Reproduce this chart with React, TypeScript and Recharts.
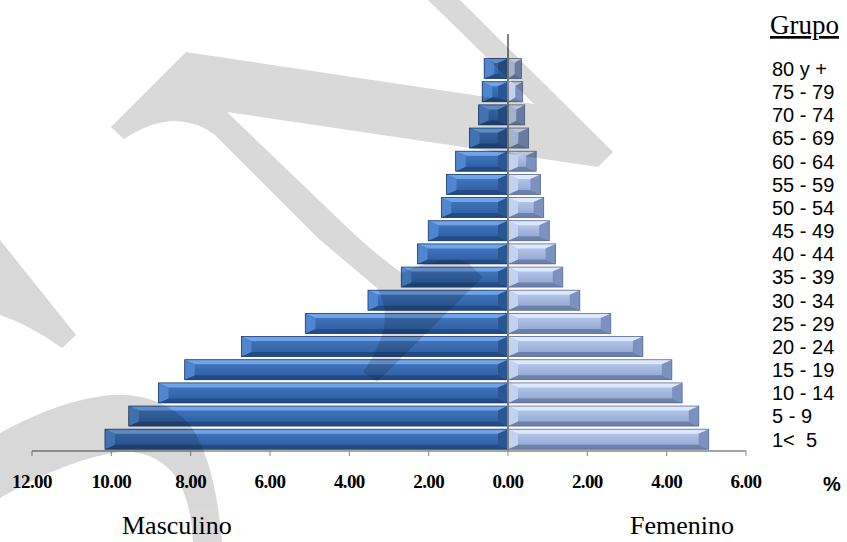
import { BarChart, Bar, XAxis, YAxis, ReferenceLine } from "recharts";

// Grupos de edad, de arriba hacia abajo
const grupos = [
  "80 y +",
  "75 - 79",
  "70 - 74",
  "65 - 69",
  "60 - 64",
  "55 - 59",
  "50 - 54",
  "45 - 49",
  "40 - 44",
  "35 - 39",
  "30 - 34",
  "25 - 29",
  "20 - 24",
  "15 - 19",
  "10 - 14",
  "5 - 9",
  "1< \u00a05",
];

// porcentajes
const masculino = [0.6, 0.65, 0.74, 0.97, 1.32, 1.55, 1.68, 2.01, 2.28, 2.69, 3.53, 5.11, 6.72, 8.15, 8.81, 9.56, 10.16];
const femenino = [0.34, 0.37, 0.42, 0.52, 0.71, 0.82, 0.9, 1.04, 1.2, 1.38, 1.81, 2.59, 3.4, 4.13, 4.39, 4.81, 5.06];

const xTicks = [-12, -10, -8, -6, -4, -2, 0, 2, 4, 6];

// fila vacia arriba, como en el original
const data = [
  { grupo: "", m: null, f: null },
  ...grupos.map((g, i) => ({ grupo: g, m: -masculino[i], f: femenino[i] })),
];

type BevelColors = {
  face: string;
  top: string;
  bottom: string;
  left: string;
  right: string;
  stroke: string;
};

const MALE: BevelColors = {
  face: "url(#mFace)",
  top: "#6FA4E8",
  bottom: "#234C86",
  left: "#4F86CF",
  right: "#2A5693",
  stroke: "#1D3E6E",
};

const FEMALE: BevelColors = {
  face: "url(#fFace)",
  top: "#DCE8FC",
  bottom: "#6D80AC",
  left: "#C2D2F0",
  right: "#7D91BE",
  stroke: "#5B6B92",
};

function BevelBar(props: any) {
  const { x, y, width, height, c } = props;
  if (!width || !height) return null;
  const x0 = width < 0 ? x + width : x;
  const y0 = height < 0 ? y + height : y;
  const w = Math.abs(width);
  const h = Math.abs(height);
  const bv = Math.min(4.5, h / 2);
  const be = Math.min(10, w / 2, h / 2);
  const x1 = x0 + w;
  const y1 = y0 + h;
  const pts = (a: number[][]) => a.map((p) => p.join(",")).join(" ");
  return (
    <g>
      <rect x={x0} y={y0} width={w} height={h} fill={c.face} />
      <polygon points={pts([[x0, y0], [x1, y0], [x1 - be, y0 + bv], [x0 + be, y0 + bv]])} fill={c.top} />
      <polygon points={pts([[x0, y1], [x1, y1], [x1 - be, y1 - bv], [x0 + be, y1 - bv]])} fill={c.bottom} />
      <polygon points={pts([[x0, y0], [x0 + be, y0 + bv], [x0 + be, y1 - bv], [x0, y1]])} fill={c.left} />
      <polygon points={pts([[x1, y0], [x1 - be, y0 + bv], [x1 - be, y1 - bv], [x1, y1]])} fill={c.right} />
      <rect x={x0} y={y0} width={w} height={h} fill="none" stroke={c.stroke} strokeWidth={0.8} />
    </g>
  );
}

export default function App() {
  return (
    <div style={{ position: "absolute", left: 0, top: 0, width: 847, height: 542, background: "#fff" }}>
      <BarChart
        width={847}
        height={542}
        data={data}
        layout="vertical"
        stackOffset="sign"
        barCategoryGap="6%"
        margin={{ top: 34, right: 0, bottom: 0, left: 32 }}
      >
        <defs>
          <linearGradient id="mFace" x1="0" y1="0" x2="0" y2="1">
            <stop offset="0%" stopColor="#4479C2" />
            <stop offset="100%" stopColor="#2D5C9F" />
          </linearGradient>
          <linearGradient id="fFace" x1="0" y1="0" x2="0" y2="1">
            <stop offset="0%" stopColor="#BCCDF0" />
            <stop offset="100%" stopColor="#8DA1CC" />
          </linearGradient>
        </defs>
        <XAxis
          type="number"
          domain={[-12, 6]}
          ticks={xTicks}
          allowDataOverflow
          height={91}
          tickSize={5}
          tickMargin={19}
          axisLine={{ stroke: "#868686", strokeWidth: 1.5 }}
          tickLine={{ stroke: "#868686" }}
          tickFormatter={(v: number) => Math.abs(v).toFixed(2)}
          tick={{ fontFamily: "Liberation Serif", fontSize: 19, fontWeight: 700, fill: "#000", letterSpacing: -0.6 }}
        />
        <YAxis
          type="category"
          dataKey="grupo"
          orientation="right"
          width={101}
          axisLine={false}
          tickLine={false}
          tickSize={0}
          tickMargin={26}
          interval={0}
          tick={{ fontFamily: "Liberation Sans", fontSize: 20, fill: "#000" }}
        />
        <Bar dataKey="m" stackId="a" isAnimationActive={false} shape={(p: any) => <BevelBar {...p} c={MALE} />} />
        <Bar dataKey="f" stackId="a" isAnimationActive={false} shape={(p: any) => <BevelBar {...p} c={FEMALE} />} />
        <ReferenceLine x={0} stroke="#808080" strokeWidth={2} />
      </BarChart>

      <svg
        width={847}
        height={542}
        style={{ position: "absolute", left: 0, top: 0, pointerEvents: "none" }}
      >
        <text x={770} y={34} fontFamily="Liberation Serif" fontSize={27} textDecoration="underline">
          Grupo
        </text>
        <text x={832} y={491} textAnchor="middle" fontFamily="Liberation Sans" fontWeight={700} fontSize={20}>
          %
        </text>
        <text x={122} y={534} fontFamily="Liberation Serif" fontSize={26}>
          Masculino
        </text>
        <text x={630} y={534} fontFamily="Liberation Serif" fontSize={26}>
          Femenino
        </text>
        {/* marca de agua gris */}
        <g fill="#000" opacity={0.15}>
          <path d="M 111 127 L 186 52 L 534 104 L 428 0 L 460 0 L 613 152 L 598 167 L 227 112 L 350 230 Q 380 258 402 273 Q 440 255 467 262 L 483 277 L 377 382 L 363 372 Q 398 322 377 288 L 320 240 L 215 135 Q 175 105 124 139 Z" />
          <path d="M 0 240 L 76 335 L 62 348 Q 30 325 0 315 Z" />
          <path d="M 0 433 Q 60 400 110 395 Q 160 392 190 425 Q 215 460 222 542 L 193 542 Q 190 490 170 470 Q 150 450 120 452 Q 70 458 0 498 Z" />
        </g>
      </svg>
    </div>
  );
}
